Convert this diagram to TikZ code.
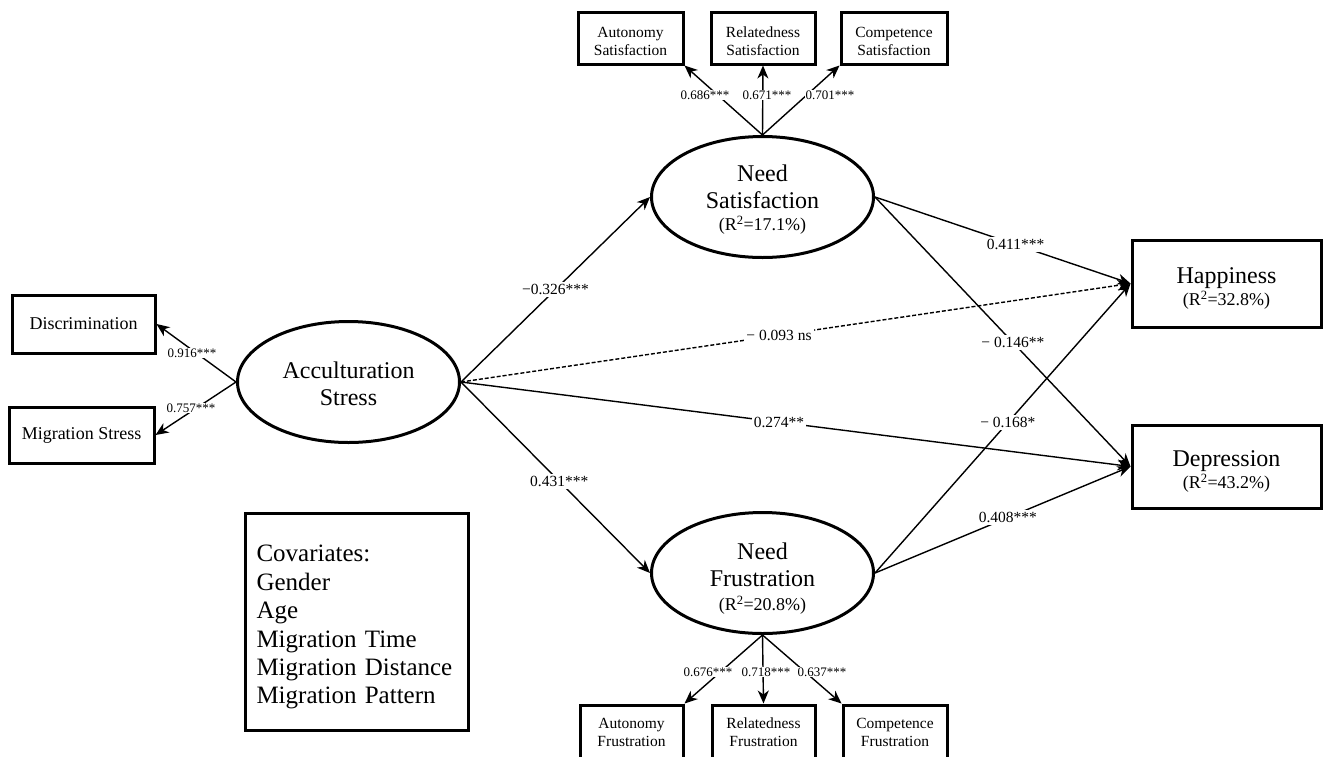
\documentclass[tikz,border=0pt]{standalone}
\usepackage{fontspec}
\setmainfont{Liberation Serif}
\usetikzlibrary{shapes.geometric,arrows.meta}
\begin{document}
\begin{tikzpicture}[x=1pt,y=-1pt,
  lat/.style={ellipse,draw,line width=3pt,minimum width=222pt,minimum height=121pt,inner sep=0pt,align=center,font=\fontsize{24}{27}\selectfont},
  obs/.style={draw,line width=3pt,inner sep=0pt,align=center},
  smallbox/.style={obs,minimum height=52pt,font=\fontsize{15.5}{18}\selectfont},
  arr/.style={line width=1.4pt,-{Stealth[length=13pt,width=11pt,inset=4pt]}},
  sl/.style={font=\fontsize{13}{13}\selectfont,fill=white,inner sep=1pt},
  ml/.style={font=\fontsize{15.5}{15.5}\selectfont,fill=white,inner sep=2pt},
  rsq/.style={font=\fontsize{18}{18}\selectfont}]
\useasboundingbox (0,0) rectangle (1323,756);
\clip (0,0) rectangle (1323,756);
\fill[white] (0,0) rectangle (1323,756);

% latent variables
\node[lat] (acc) at (348.5,382) {\rule{0pt}{20pt}Acculturation\\Stress};
\node[lat] (ns) at (762.5,197) {\rule{0pt}{22pt}Need\\Satisfaction\\[-5pt]{\fontsize{18}{18}\selectfont(R\textsuperscript{2}=17.1\%)}};
\node[lat] (nf) at (762.5,573) {\rule{0pt}{28pt}Need\\Frustration\\[-3pt]{\fontsize{18}{18}\selectfont(R\textsuperscript{2}=20.8\%)}};

% indicators
\node[smallbox,minimum width=105pt] (as) at (630.5,38) {\rule{0pt}{17pt}Autonomy\\Satisfaction};
\node[smallbox,minimum width=104pt] (rs) at (763,38) {\rule{0pt}{17pt}Relatedness\\Satisfaction};
\node[smallbox,minimum width=106pt] (cs) at (894,38) {\rule{0pt}{17pt}Competence\\Satisfaction};
\node[smallbox,minimum width=103pt,minimum height=54pt] (af) at (631.5,732) {Autonomy\\Frustration};
\node[smallbox,minimum width=103pt,minimum height=54pt] (rf) at (763.5,732) {Relatedness\\Frustration};
\node[smallbox,minimum width=104pt,minimum height=54pt] (cf) at (895,732) {Competence\\Frustration};
\node[obs,minimum width=143pt,minimum height=58pt,font=\fontsize{18}{18}\selectfont] (disc) at (83.5,324) {Discrimination};
\node[obs,minimum width=145pt,minimum height=56pt,font=\fontsize{18}{18}\selectfont] (ms) at (81.5,435) {Migration Stress};

% outcomes
\node[obs,minimum width=189pt,minimum height=87pt,font=\fontsize{24}{24}\selectfont] (hap) at (1226.5,283.5) {\rule{0pt}{26pt}Happiness\\[-2pt]{\fontsize{18}{18}\selectfont(R\textsuperscript{2}=32.8\%)}};
\node[obs,minimum width=189pt,minimum height=83pt,font=\fontsize{24}{24}\selectfont] (dep) at (1226.5,466.5) {\rule{0pt}{26pt}Depression\\[-2pt]{\fontsize{18}{18}\selectfont(R\textsuperscript{2}=43.2\%)}};

% covariates
\node[obs,minimum width=223pt,minimum height=217pt,align=left,text width=200pt,inner xsep=11.5pt,font=\fontsize{25}{28.4}\selectfont] (cov) at (356.5,621.5)
  {\rule{0pt}{28pt}Covariates:\\Gender\\Age\\Migration Time\\Migration Distance\\Migration Pattern};

% measurement arrows
\draw[arr] (ns.north) -- (as.south east);
\draw[arr] (ns.north) -- (rs.south);
\draw[arr] (ns.north) -- (cs.south west);
\draw[arr] (nf.south) -- (af.north east);
\draw[arr] (nf.south) -- (rf.north);
\draw[arr] (nf.south) -- (cf.north west);
\draw[arr] (acc.west) -- (disc.east);
\draw[arr] (acc.west) -- (ms.east);

% structural arrows
\draw[arr] (acc.east) -- (ns.west);
\draw[arr] (acc.east) -- (nf.west);
\draw[arr,dash pattern=on 4pt off 2pt] (acc.east) -- (hap.west);
\draw[arr] (acc.east) -- (dep.west);
\draw[arr] (ns.east) -- (hap.west);
\draw[arr] (ns.east) -- (dep.west);
\draw[arr] (nf.east) -- (hap.west);
\draw[arr] (nf.east) -- (dep.west);

% loading labels
\node[sl] (l1) at (705,95) {0.686***};
\node[sl] (l2) at (767,95) {0.671***};
\node[sl] (l3) at (830,95) {0.701***};
\node[sl] (l4) at (708,672) {0.676***};
\node[sl] (l5) at (766,672) {0.718***};
\node[sl] (l6) at (822,672) {0.637***};
\node[sl] (l7) at (192,353) {0.916***};
\node[sl] (l8) at (191,408) {0.757***};

% path labels (on their connectors)
\path (acc.east) -- node[ml,pos=0.5] (p1) {\char"2212 0.326***} (ns.west);
\path (acc.east) -- node[ml,pos=0.52] (p2) {0.431***} (nf.west);
\path (acc.east) -- node[ml,pos=0.475] (p3) {\char"2212\ 0.093 ns} (hap.west);
\path (acc.east) -- node[ml,pos=0.475] (p4) {0.274**} (dep.west);
\path (ns.east) -- node[ml,pos=0.55] (p5) {0.411***} (hap.west);
\path (ns.east) -- node[ml,pos=0.54] (p6) {\char"2212\ 0.146**} (dep.west);
\path (nf.east) -- node[ml,pos=0.52] (p7) {\char"2212\ 0.168*} (hap.west);
\path (nf.east) -- node[ml,pos=0.52] (p8) {0.408***} (dep.west);
\end{tikzpicture}
\end{document}
